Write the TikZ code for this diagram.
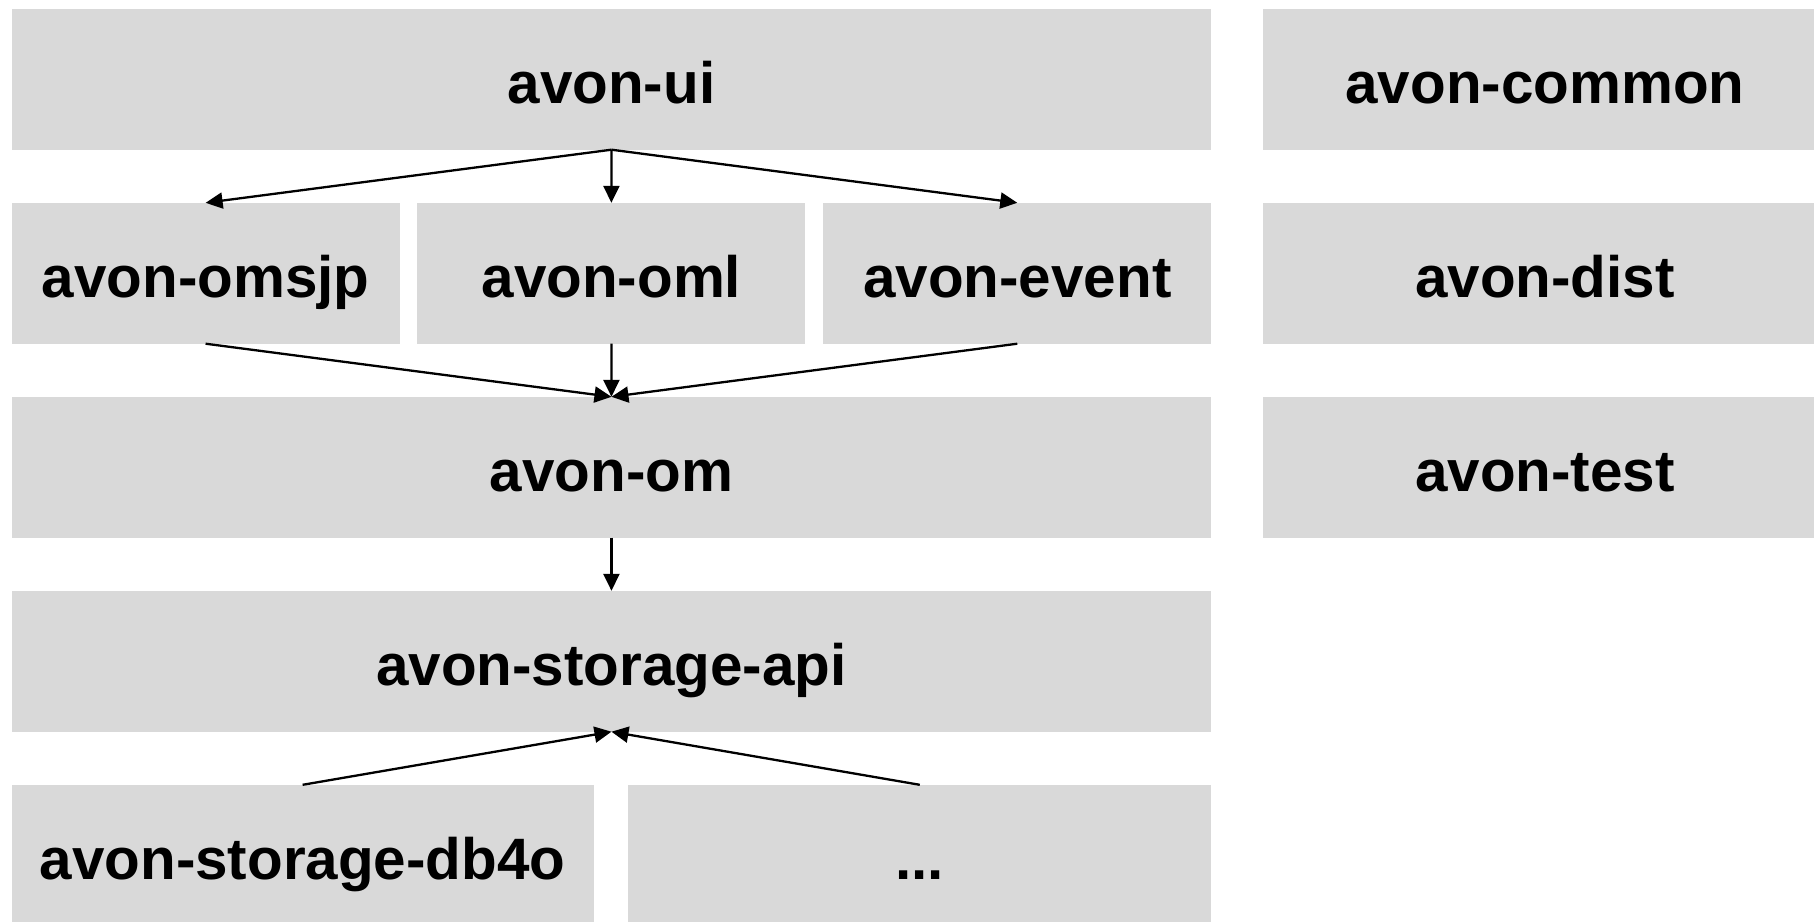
\documentclass[tikz,border=0pt]{standalone}
\usepackage{fontspec}
\setmainfont{Liberation Sans}
\usetikzlibrary{arrows.meta}
\definecolor{boxgrey}{RGB}{217,217,217}
\begin{document}
\begin{tikzpicture}[x=1pt,y=-1pt,
  module/.style={fill=boxgrey, draw=none, inner sep=0pt,
    minimum height=140.5pt, text height=48pt, text depth=0pt,
    font=\fontsize{58.4}{70}\selectfont\bfseries},
  dep/.style={line width=2.3pt, -{Triangle[length=17pt,width=16pt]}}]
\useasboundingbox (0,0) rectangle (1814,921);
\clip (0,0) rectangle (1814,921);

% main column
\node[module, minimum width=1199.7pt] (ui)  at (611.45,79.25)  {avon-ui};
\node[module, minimum width=388pt]    (omsjp) at (205.6,273.25) {avon-omsjp};
\node[module, minimum width=388pt]    (oml)   at (611.4,273.25) {avon-oml};
\node[module, minimum width=388pt]    (event) at (1017.3,273.25) {avon-event};
\node[module, minimum width=1199.7pt] (om)  at (611.45,467.25) {avon-om};
\node[module, minimum width=1199.7pt] (api) at (611.45,661.25) {avon-storage-api};
\node[module, minimum width=582pt]    (db4o) at (302.6,855.25) {avon-storage-db4o};
\node[module, minimum width=583pt]    (more) at (919.8,855.25) {...};

% side column
\node[module, minimum width=564pt] (common) at (1545,79.25)  {avon-common};
\node[module, minimum width=564pt] (dist)   at (1545,273.25) {avon-dist};
\node[module, minimum width=564pt] (test)   at (1545,467.25) {avon-test};

% dependencies
\draw[dep] (ui.south) -- (omsjp.north);
\draw[dep] (ui.south) -- (oml.north);
\draw[dep] (ui.south) -- (event.north);
\draw[dep] (omsjp.south) -- (om.north);
\draw[dep] (oml.south) -- (om.north);
\draw[dep] (event.south) -- (om.north);
\draw[dep] (om.south) -- (api.north);
\draw[dep] (db4o.north) -- (api.south);
\draw[dep] (more.north) -- (api.south);
\end{tikzpicture}
\end{document}
